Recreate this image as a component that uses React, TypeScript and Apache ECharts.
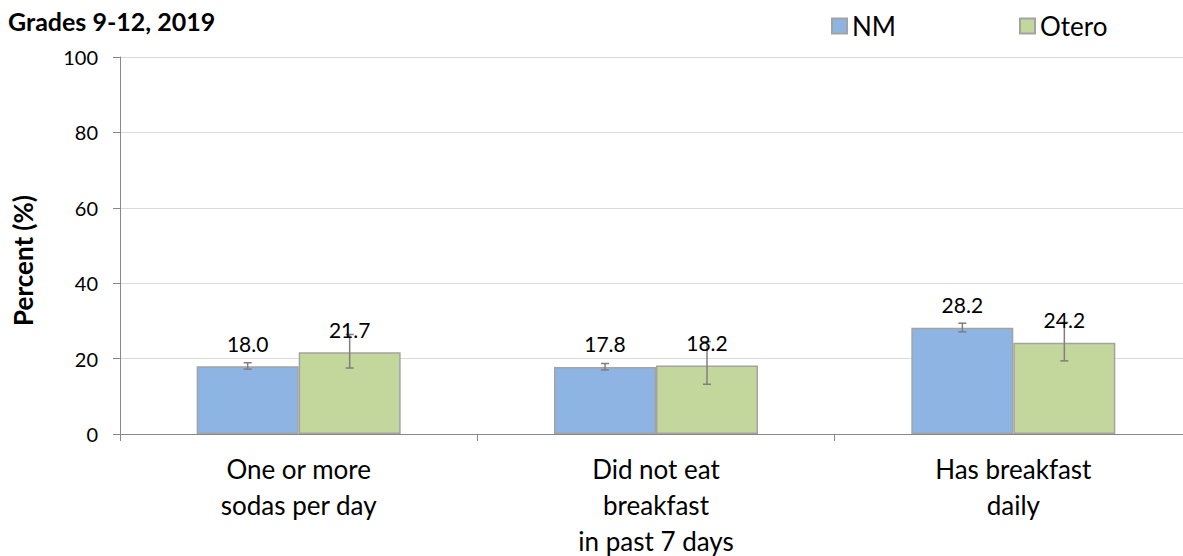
import React, { useEffect, useRef } from "react";
import * as echarts from "echarts";

const categories = ["One or more\nsodas per day", "Did not eat\nbreakfast\nin past 7 days", "Has breakfast\ndaily"];
const seriesNames = ["NM", "Otero"];
const nmValues = [18.0, 17.8, 28.2];
const oteroValues = [21.7, 18.2, 24.2];
const nmLow = [17.2, 17.0, 27.1];
const nmHigh = [18.9, 18.7, 29.4];
const oteroLow = [17.5, 13.2, 19.4];
const oteroHigh = [26.4, 24.5, 29.6];
const yTicks = [0, 20, 40, 60, 80, 100];

const FONT = "Lato, 'Open Sans', sans-serif";
const BAR_WIDTH = 102;
const COLORS = ["#8EB4E3", "#C3D69B"];
const BORDER = "#A3A3A3";

export default function App() {
  const ref = useRef<HTMLDivElement>(null);
  useEffect(() => {
    if (!ref.current) return;
    const chart = echarts.init(ref.current, undefined, { renderer: "svg" });
    const values = [nmValues, oteroValues];
    const lows = [nmLow, oteroLow];
    const highs = [nmHigh, oteroHigh];
    const errData: number[][] = [];
    for (let s = 0; s < 2; s++) {
      for (let i = 0; i < categories.length; i++) {
        errData.push([i, lows[s][i], highs[s][i], s, values[s][i]]);
      }
    }
    const option: any = {
      animation: false,
      title: {
        text: "Grades 9-12, 2019",
        left: 3,
        top: 3,
        textStyle: { fontFamily: FONT, fontSize: 25, fontWeight: "bold", color: "#000" },
      },
      legend: [0, 1].map((s) => ({
        data: [seriesNames[s]],
        left: s === 0 ? 826 : 1014,
        top: 8,
        icon: "rect",
        itemWidth: 15,
        itemHeight: 15,
        itemGap: 6,
        textStyle: { fontFamily: FONT, fontSize: 26, color: "#000", padding: [0, 0, 0, 0] },
      })),
      grid: { left: 120, top: 57, height: 377, width: 1072, outerBoundsMode: "none", containLabel: false },
      xAxis: {
        type: "category",
        data: categories,
        axisLine: { show: true, lineStyle: { color: "#888888", width: 1 } },
        axisTick: { show: true, alignWithLabel: false, interval: 0, length: 7, lineStyle: { color: "#888888" } },
        axisLabel: { fontFamily: FONT, fontSize: 26, color: "#000", lineHeight: 36, margin: 17, interval: 0 },
      },
      yAxis: {
        type: "value",
        min: yTicks[0],
        max: yTicks[yTicks.length - 1],
        interval: 20,
        name: "Percent (%)",
        nameLocation: "middle",
        nameGap: 84,
        nameTextStyle: { fontFamily: FONT, fontSize: 26, fontWeight: "bold", color: "#000", padding: [0, 30, 0, 0] },
        axisLine: { show: true, lineStyle: { color: "#888888", width: 1 } },
        axisTick: { show: true, length: 7, lineStyle: { color: "#888888" } },
        axisLabel: { fontFamily: FONT, fontSize: 20, color: "#000", margin: 22 },
        splitLine: { show: true, lineStyle: { color: "#D9D9D9", width: 1 } },
      },
      series: [
        ...[0, 1].map((s) => ({
          name: seriesNames[s],
          type: "bar",
          data: values[s],
          barWidth: BAR_WIDTH,
          barGap: "0%",
          z: 2,
          itemStyle: { color: COLORS[s], borderColor: BORDER, borderWidth: 1.5 },
        })),
        {
          type: "custom",
          z: 5,
          data: errData,
          renderItem: (params: any, api: any) => {
            const cat = api.value(0);
            const low = api.value(1);
            const high = api.value(2);
            const s = api.value(3);
            const v = api.value(4);
            const off = s === 0 ? -BAR_WIDTH / 2 : BAR_WIDTH / 2;
            const pLow = api.coord([cat, low]);
            const pHigh = api.coord([cat, high]);
            const pVal = api.coord([cat, v]);
            const x = pLow[0] + off;
            const cap = 4;
            const st = { stroke: "#7F7F7F", lineWidth: 1.5 };
            return {
              type: "group",
              children: [
                { type: "line", shape: { x1: x, y1: pLow[1], x2: x, y2: pHigh[1] }, style: st },
                { type: "line", shape: { x1: x - cap, y1: pLow[1], x2: x + cap, y2: pLow[1] }, style: st },
                { type: "line", shape: { x1: x - cap, y1: pHigh[1], x2: x + cap, y2: pHigh[1] }, style: st },
                {
                  type: "text",
                  style: {
                    x: x,
                    y: pVal[1] - 23,
                    text: v.toFixed(1),
                    fontFamily: FONT,
                    fontSize: 21,
                    fill: "#000",
                    align: "center",
                    verticalAlign: "middle",
                  },
                },
              ],
            };
          },
        },
      ],
    };
    chart.setOption(option);
    return () => chart.dispose();
  }, []);
  return (
    <div
      ref={ref}
      style={{ position: "fixed", left: 0, top: 0, width: 1183, height: 556, background: "#fff" }}
    />
  );
}
